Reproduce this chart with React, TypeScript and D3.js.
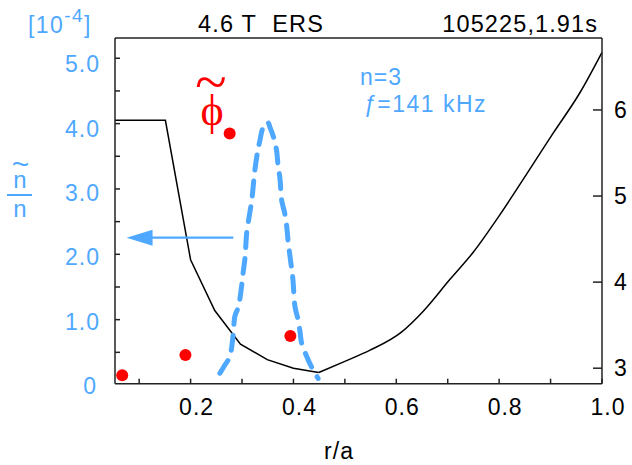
import React from 'react';
import * as d3 from 'd3';

const W = 632;
const H = 465;

// x axis (r/a)
const xTicks = [0.1, 0.2, 0.3, 0.4, 0.5, 0.6, 0.7, 0.8, 0.9, 1.0];
const xLabelVals = [0.2, 0.4, 0.6, 0.8, 1.0];
const xLabels = ['0.2', '0.4', '0.6', '0.8', '1.0'];

// left axis (n~/n, 1e-4)
const leftTicks = [0.5, 1, 1.5, 2, 2.5, 3, 3.5, 4, 4.5, 5];
const leftLabelVals = [0, 1, 2, 3, 4, 5];
const leftLabels = ['0', '1.0', '2.0', '3.0', '4.0', '5.0'];

// right axis
const rightTicks = [3, 4, 5, 6];
const rightLabels = ['3', '4', '5', '6'];

// black solid profile (right axis): inner part (sharp corners) and outer part (smooth)
const qRInner = [0.053, 0.151, 0.2, 0.247, 0.297, 0.349, 0.4, 0.449];
const qValInner = [5.88, 5.88, 4.26, 3.67, 3.28, 3.1, 3.0, 2.95];
const qROuter = [0.449, 0.5, 0.549, 0.61, 0.652, 0.704, 0.75, 0.8, 0.854, 0.905, 0.957, 1.0];
const qValOuter = [2.95, 3.08, 3.21, 3.42, 3.66, 4.03, 4.35, 4.77, 5.26, 5.73, 6.2, 6.67];

// blue dashed n~/n profile (left axis)
const nR = [0.257, 0.267, 0.276, 0.283, 0.286, 0.293, 0.299, 0.302, 0.306, 0.309, 0.315, 0.319, 0.325, 0.331, 0.335, 0.339, 0.345, 0.351, 0.354, 0.361, 0.367, 0.37, 0.374, 0.377, 0.383, 0.387, 0.39, 0.396, 0.399, 0.403, 0.409, 0.413, 0.416, 0.429, 0.435, 0.448];
const nVal = [0.18, 0.31, 0.43, 0.79, 1.05, 1.2, 1.5, 1.71, 1.96, 2.32, 2.63, 2.83, 3.29, 3.6, 3.75, 3.9, 4.01, 4.01, 3.95, 3.8, 3.6, 3.37, 3.14, 2.83, 2.63, 2.42, 2.17, 1.81, 1.61, 1.2, 1.0, 0.8, 0.64, 0.38, 0.28, 0.1];

// red phi~ points (left axis units)
const phiR = [0.067, 0.19, 0.276, 0.394];
const phiVal = [0.15, 0.46, 3.85, 0.75];

// arrow (points to left axis)
const arrowR = [0.283, 0.0755];
const arrowVal = 2.255;

const BLUE = '#4fa8ff';
const RED = '#ff0000';
const AX = '#222';
const FONT = '"Liberation Sans", Arial, Helvetica, sans-serif';
const SERIF = '"Liberation Serif", "Times New Roman", serif';

export default function App() {
  const L = 115, R = 602, T = 38, B = 383.7;
  const x = d3.scaleLinear().domain([0.053, 1.0]).range([L, R]);
  const yL = d3.scaleLinear().domain([0.02, 5.31]).range([B, T]);
  const yR = d3.scaleLinear().domain([2.82, 6.836]).range([B, T]);

  const qInner = d3.line<number>().x((d, i) => x(qRInner[i])).y((d) => yR(d));
  const qOuter = d3
    .line<number>()
    .x((d, i) => x(qROuter[i]))
    .y((d) => yR(d))
    .curve(d3.curveMonotoneX);
  const nLine = d3
    .line<number>()
    .x((d, i) => x(nR[i]))
    .y((d) => yL(d))
    .curve(d3.curveCatmullRom);

  const ay = yL(arrowVal);
  const ax0 = x(arrowR[0]);
  const ax1 = x(arrowR[1]);
  const headLen = 26;
  const headHalf = 8;

  const txt = { fontFamily: FONT, fontSize: 23, letterSpacing: 1 } as React.CSSProperties;

  return (
    <svg width={W} height={H} style={{ position: 'absolute', left: 0, top: 0, background: '#fff' }}>
      {/* curves */}
      <path d={qInner(qValInner) || ''} fill="none" stroke="#000" strokeWidth={1.5} strokeLinejoin="miter" />
      <path d={qOuter(qValOuter) || ''} fill="none" stroke="#000" strokeWidth={1.5} />
      <path
        d={nLine(nVal) || ''}
        fill="none"
        stroke={BLUE}
        strokeWidth={5}
        strokeDasharray="15 11"
        strokeLinecap="round"
        strokeLinejoin="round"
      />
      {phiR.map((r, i) => (
        <circle key={i} cx={x(r)} cy={yL(phiVal[i])} r={6} fill={RED} />
      ))}

      {/* arrow */}
      <line x1={ax0} y1={ay} x2={ax1 + headLen - 2} y2={ay} stroke={BLUE} strokeWidth={2.3} />
      <polygon
        points={`${ax1},${ay} ${ax1 + headLen},${ay - headHalf} ${ax1 + headLen},${ay + headHalf}`}
        fill={BLUE}
      />

      {/* frame */}
      <g stroke={AX} strokeWidth={1.5} fill="none">
        <line x1={L} y1={T} x2={R} y2={T} />
        <line x1={L} y1={T} x2={L} y2={B} />
        <line x1={R} y1={T} x2={R} y2={B} />
        <line x1={L} y1={B} x2={R} y2={B} />
        {xTicks.map((t) => (
          <line key={'xt' + t} x1={x(t)} x2={x(t)} y1={B} y2={B - 5} />
        ))}
        {leftTicks.map((t) => (
          <line key={'lt' + t} x1={L} x2={L + 5} y1={yL(t)} y2={yL(t)} />
        ))}
        {rightTicks.map((t) => (
          <line key={'rt' + t} x1={R} x2={R - 9} y1={yR(t)} y2={yR(t)} />
        ))}
      </g>

      {/* x labels */}
      {xLabelVals.map((v, i) => (
        <text key={'xl' + v} x={x(v) + 6} y={415} textAnchor="middle" fill="#000" style={txt}>
          {xLabels[i]}
        </text>
      ))}
      <text x={339} y={459} textAnchor="middle" fill="#000" style={txt}>r/a</text>

      {/* left labels */}
      {leftLabelVals.map((v, i) => (
        <text key={'ll' + v} x={v === 0 ? 97 : 100} y={yL(v) + 1 + v} dy="0.35em" textAnchor="end" fill={BLUE} style={txt}>
          {leftLabels[i]}
        </text>
      ))}
      {/* right labels */}
      {rightTicks.map((v, i) => (
        <text key={'rl' + v} x={614} y={yR(v)} dy="0.35em" textAnchor="start" fill="#000" style={txt}>
          {rightLabels[i]}
        </text>
      ))}

      {/* unit label */}
      <text x={28} y={33.3} fill={BLUE} style={{ fontFamily: FONT, fontSize: 23, letterSpacing: 1.4 }}>
        [10<tspan dy={-11} fontSize={19}>-4</tspan><tspan dy={11}>]</tspan>
      </text>

      {/* n~/n label */}
      <text x={20.5} y={174} textAnchor="middle" fill={BLUE} style={{ fontFamily: FONT, fontSize: 30 }}>~</text>
      <text x={20} y={188.3} textAnchor="middle" fill={BLUE} style={{ fontFamily: FONT, fontSize: 24 }}>n</text>
      <line x1={7} x2={32} y1={195} y2={195} stroke={BLUE} strokeWidth={2} />
      <text x={20} y={217.3} textAnchor="middle" fill={BLUE} style={{ fontFamily: FONT, fontSize: 24 }}>n</text>

      {/* titles */}
      <text x={198} y={31.7} fill="#000" style={{ fontFamily: FONT, fontSize: 23.5, letterSpacing: 1.2, whiteSpace: 'pre' }}>
        4.6 T  ERS
      </text>
      <text x={598} y={31.7} textAnchor="end" fill="#000" style={{ fontFamily: FONT, fontSize: 23.5, letterSpacing: 1.1 }}>
        105225,1.91s
      </text>

      {/* annotations */}
      <text x={360} y={85} fill={BLUE} style={txt}>n=3</text>
      <text x={363} y={111.7} fill={BLUE} style={{ ...txt, letterSpacing: 1.5 }}>
        <tspan fontStyle="italic">ƒ</tspan>=141 kHz
      </text>

      {/* phi tilde label */}
      <text x={211} y={101} textAnchor="middle" fill={RED} style={{ fontFamily: SERIF, fontSize: 58 }}>~</text>
      <text x={212} y={125} textAnchor="middle" fill={RED} style={{ fontFamily: SERIF, fontSize: 44 }}>ϕ</text>
    </svg>
  );
}
